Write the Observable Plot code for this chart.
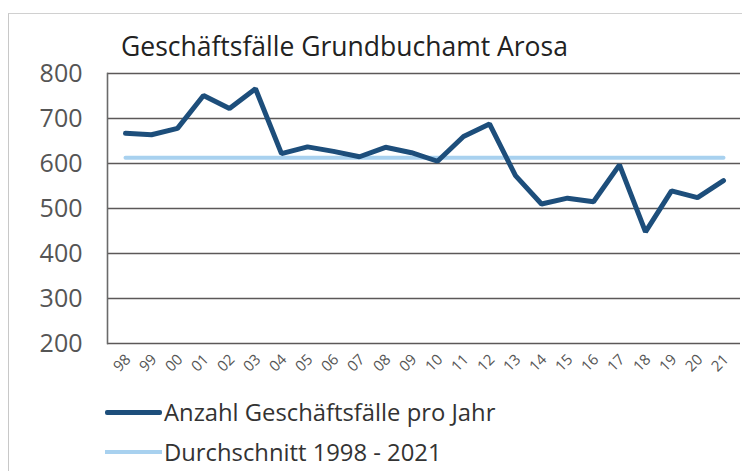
<!DOCTYPE html>
<html><head><meta charset="utf-8">
<script src="https://cdn.jsdelivr.net/npm/d3@7"></script>
<script src="https://cdn.jsdelivr.net/npm/@observablehq/plot@0.6"></script>
<style>
body{margin:0;background:#fff;width:742px;height:471px;overflow:hidden;position:relative;font-family:"Open Sans",sans-serif;}
#frame{position:absolute;left:8px;top:13px;width:760px;height:480px;border-left:1.5px solid #c8c8c8;border-top:1.5px solid #d0d0d0;}
#title{position:absolute;left:121px;top:28px;font-size:26.5px;color:#222;white-space:nowrap;}
#chart{position:absolute;left:0;top:0;}
.leg{position:absolute;left:105px;font-size:23.8px;color:#333;white-space:nowrap;display:flex;align-items:center;}
.leg span.sw{display:inline-block;width:57px;margin-right:2px;}
</style></head>
<body>
<div id="frame"></div>
<div id="chart"></div>
<div id="title">Geschäftsfälle Grundbuchamt Arosa</div>
<div class="leg" style="top:396px"><span class="sw" style="height:5px;background:#1d4e7b;border-radius:2px"></span>Anzahl Geschäftsfälle pro Jahr</div>
<div class="leg" style="top:436px"><span class="sw" style="height:4px;background:#a8d1ef"></span>Durchschnitt 1998 - 2021</div>
<script>
const years = ["98","99","00","01","02","03","04","05","06","07","08","09","10","11","12","13","14","15","16","17","18","19","20","21"];
const cases = [667,664,678,751,722,766,622,637,627,615,636,624,605,660,688,573,510,523,515,597,448,539,524,562];
const average = 613;
const yTicks = [200,300,400,500,600,700,800];

const data = years.map((y,i)=>({year:y, value:cases[i]}));
const avgData = years.map(y=>({year:y, value:average}));

const chart = Plot.plot({
  width:742, height:390,
  marginLeft:107, marginRight:2, marginTop:73, marginBottom:47,
  style:{fontFamily:"Open Sans, sans-serif", background:"transparent", overflow:"visible"},
  x:{type:"point", domain:years, padding:0.4, axis:null},
  y:{domain:[200,800], axis:null},
  marks:[
    Plot.ruleY(yTicks, {stroke:"#5c5858", strokeWidth:1.6}),
    Plot.frame({anchor:"left", stroke:"#6a6a6a", strokeWidth:1.6}),
    Plot.axisY(yTicks, {tickSize:0, tickPadding:25, fontSize:25, fill:"#555", label:null}),
    Plot.text(years, {x:d=>d, frameAnchor:"bottom", dy:23, rotate:-45, fontSize:15, fill:"#555"}),
    Plot.line(avgData, {x:"year", y:"value", stroke:"#a8d1ef", strokeWidth:4}),
    Plot.line(data, {x:"year", y:"value", stroke:"#1d4e7b", strokeWidth:5, strokeLinejoin:"miter"})
  ]
});
document.getElementById("chart").appendChild(chart);
</script>
</body></html>
